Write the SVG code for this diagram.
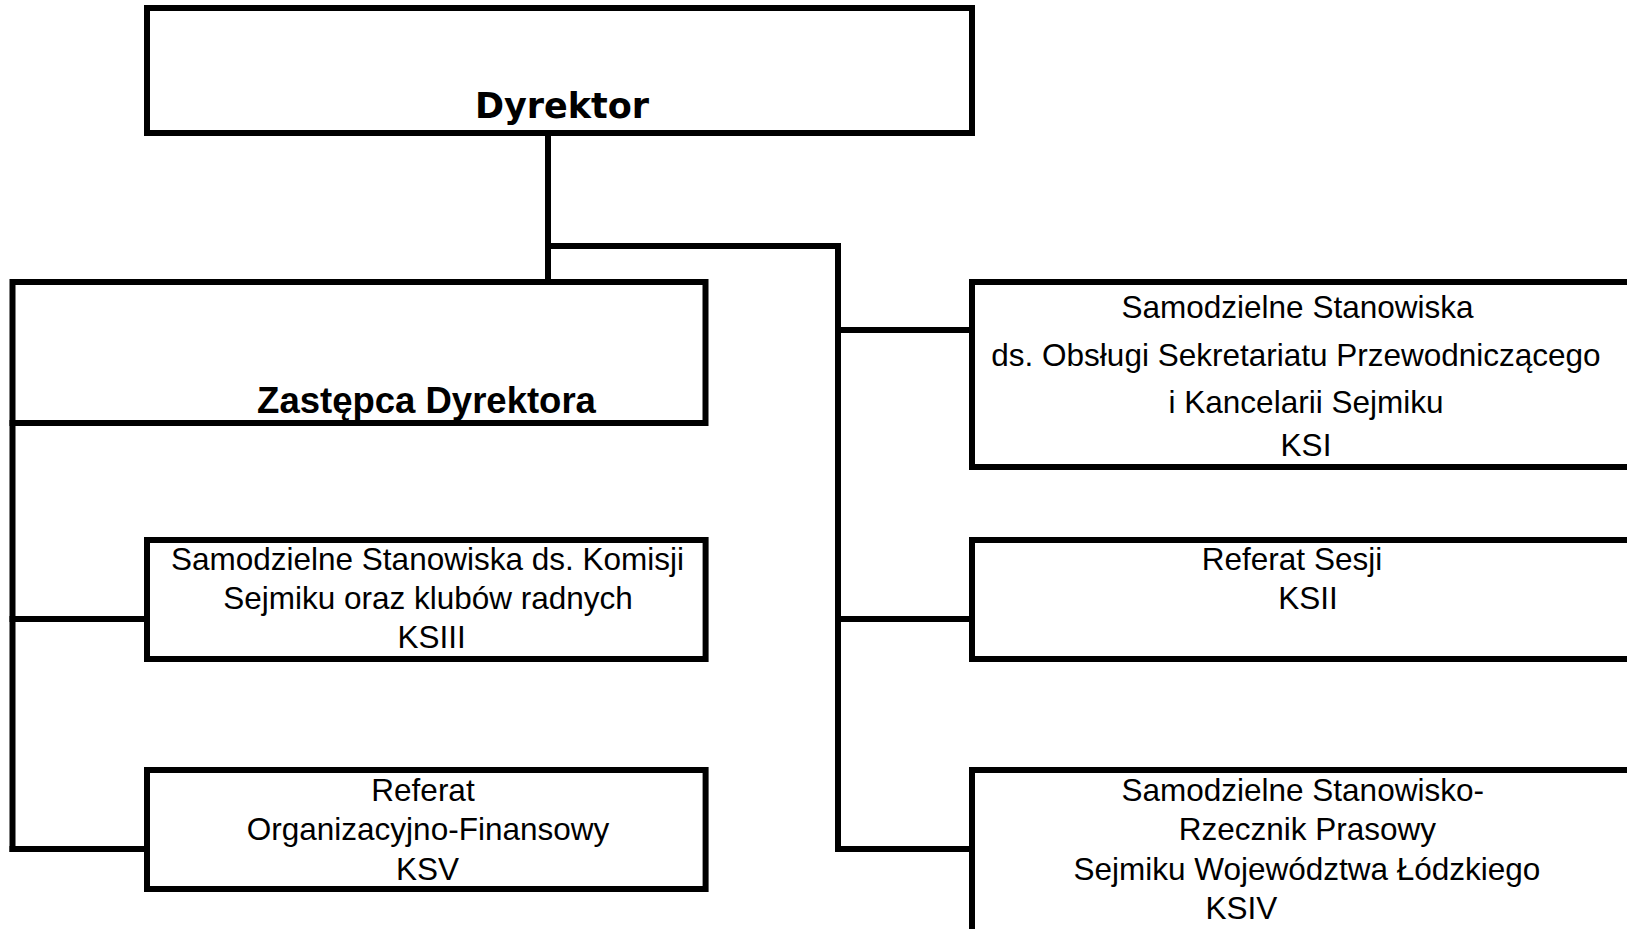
<svg xmlns="http://www.w3.org/2000/svg" width="1627" height="929" viewBox="0 0 1627 929">
<style>
.box{fill:#fff;stroke:#000;stroke-width:6}
.ln{fill:none;stroke:#000;stroke-width:6;stroke-linecap:square}
.t{font-family:"Liberation Sans",Arial,sans-serif;font-size:31.5px;fill:#000;text-anchor:middle}
.b{font-family:"Liberation Sans",Arial,sans-serif;font-weight:bold;font-size:36.5px;fill:#000;text-anchor:middle}
.bb{font-family:"DejaVu Sans",sans-serif;font-weight:bold;font-size:35px;fill:#000;text-anchor:middle}
</style>
<rect width="1627" height="929" fill="#fff"/>
<g id="connectors">
<path class="ln" d="M548,133 V282"/>
<path class="ln" d="M548,246 H838 V849"/>
<path class="ln" d="M838,330 H972"/>
<path class="ln" d="M838,619 H972"/>
<path class="ln" d="M838,849 H972"/>
<path class="ln" d="M12.5,423 V849"/>
<path class="ln" d="M12.5,619 H147"/>
<path class="ln" d="M12.5,849 H147"/>
</g>
<g id="dyrektor">
<rect class="box" x="147" y="8" width="825" height="125"/>
<text class="bb" x="562" y="118">Dyrektor</text>
</g>
<g id="zastepca">
<rect class="box" x="12.5" y="282" width="693" height="141"/>
<text class="b" x="426.5" y="413">Zastępca Dyrektora</text>
</g>
<g id="ksi">
<rect class="box" x="972" y="282" width="700" height="185"/>
<text class="t" x="1297.5" y="318">Samodzielne Stanowiska</text>
<text class="t" x="1296" y="365.5">ds. Obsługi Sekretariatu Przewodniczącego</text>
<text class="t" x="1306" y="412.5">i Kancelarii Sejmiku</text>
<text class="t" x="1306" y="456">KSI</text>
</g>
<g id="ksii">
<rect class="box" x="972" y="540" width="700" height="119"/>
<text class="t" x="1292" y="570">Referat Sesji</text>
<text class="t" x="1308" y="608.5">KSII</text>
</g>
<g id="ksiii">
<rect class="box" x="147" y="540" width="558.6" height="119"/>
<text class="t" x="427.5" y="570">Samodzielne Stanowiska ds. Komisji</text>
<text class="t" x="428" y="608.5">Sejmiku oraz klubów radnych</text>
<text class="t" x="431.6" y="648">KSIII</text>
</g>
<g id="ksv">
<rect class="box" x="147" y="770" width="558.6" height="119"/>
<text class="t" x="423" y="800.5">Referat</text>
<text class="t" x="428" y="840">Organizacyjno-Finansowy</text>
<text class="t" x="427.5" y="879.5">KSV</text>
</g>
<g id="ksiv">
<rect class="box" x="972" y="770" width="700" height="200"/>
<text class="t" x="1302.7" y="800.5">Samodzielne Stanowisko-</text>
<text class="t" x="1307.4" y="840">Rzecznik Prasowy</text>
<text class="t" x="1306.9" y="879.5">Sejmiku Województwa Łódzkiego</text>
<text class="t" x="1241.5" y="918.5">KSIV</text>
</g>
</svg>
